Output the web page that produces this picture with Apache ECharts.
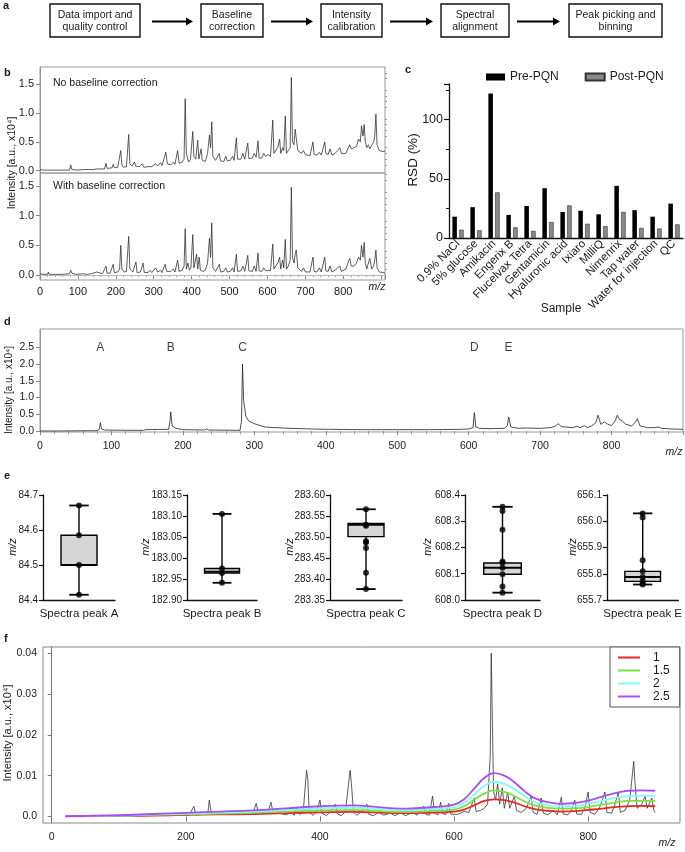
<!DOCTYPE html>
<html><head><meta charset="utf-8">
<script src="https://cdn.jsdelivr.net/npm/echarts@6/dist/echarts.min.js"></script>
<style>html,body{margin:0;padding:0;background:#fff}#c{width:685px;height:852px}</style>
</head><body><div id="c"></div>
<script>
// ---------------- DATA ----------------
const flowSteps = ['Data import and\nquality control','Baseline\ncorrection','Intensity\ncalibration','Spectral\nalignment','Peak picking and\nbinning'];

// Panel b: spectra [m/z, intensity x10^4]
const bUpperSpectrum = [[0,0.02],[10,0.01],[20,0.01],[22,0.03],[24,0.01],[40,0.01],[60,0.01],[78,0.01],[81,0.1],[84,0.02],[100,0.01],[115,0.02],[118,0.04],[121,0.02],[140,0.02],[150,0.03],[153,0.05],[156,0.03],[170,0.03],[174,0.13],[177,0.04],[190,0.05],[193,0.11],[196,0.05],[205,0.06],[210,0.08],[213,0.35],[216,0.1],[220,0.06],[228,0.07],[234,0.63],[237,0.12],[243,0.08],[249,0.15],[252,0.08],[262,0.07],[270,0.12],[274,0.06],[285,0.07],[290,0.1],[295,0.07],[305,0.12],[310,0.08],[318,0.14],[322,0.09],[332,0.32],[336,0.12],[345,0.1],[352,0.15],[356,0.11],[363,0.35],[367,0.13],[375,0.15],[380,0.2],[383,1.25],[386,0.3],[392,0.15],[397,0.2],[403,0.68],[406,0.25],[411,0.2],[416,0.53],[419,0.2],[425,0.38],[428,0.18],[436,0.16],[442,0.3],[447,0.62],[450,0.4],[453,0.85],[456,0.25],[463,0.18],[468,0.2],[473,0.3],[476,0.17],[485,0.16],[490,0.25],[494,0.17],[502,0.18],[508,0.25],[512,0.18],[518,0.57],[521,0.2],[530,0.2],[535,0.3],[540,0.2],[548,0.48],[551,0.21],[560,0.22],[565,0.3],[570,0.23],[575,0.52],[578,0.22],[585,0.22],[590,0.3],[595,0.25],[602,0.28],[608,0.25],[614,0.88],[617,0.3],[622,0.3],[627,0.4],[632,0.55],[635,0.3],[640,0.4],[643,0.35],[647,0.95],[650,0.3],[655,0.35],[660,0.4],[663,1.62],[666,0.5],[670,0.45],[673,0.72],[676,0.7],[680,0.35],[690,0.3],[695,0.35],[700,0.28],[705,0.3],[712,0.26],[720,0.5],[723,0.28],[730,0.27],[737,0.32],[742,0.27],[751,0.5],[754,0.3],[760,0.28],[765,0.38],[770,0.27],[778,0.3],[785,0.35],[791,0.4],[795,0.3],[800,0.32],[807,0.3],[812,0.38],[817,0.45],[821,0.38],[828,0.4],[835,0.42],[840,0.55],[845,0.5],[848,0.78],[852,0.6],[855,0.8],[858,0.5],[862,0.4],[866,0.45],[870,0.38],[875,0.4],[880,0.5],[883,0.6],[886,0.98],[889,0.45],[895,0.35],[900,0.38],[905,0.33],[910,0.34]];
const bLowerSpectrum = [[0,0.02],[10,0.01],[20,0.01],[22,0.05],[24,0.01],[40,0.01],[45,0.02],[60,0.01],[78,0.02],[81,0.08],[84,0.03],[95,0.01],[100,0.02],[115,0.02],[120,0.04],[123,0.01],[135,0.02],[150,0.05],[153,0.02],[165,0.02],[174,0.15],[177,0.03],[185,0.03],[193,0.18],[196,0.04],[205,0.05],[210,0.1],[213,0.5],[216,0.1],[222,0.05],[228,0.06],[234,0.65],[237,0.1],[245,0.05],[253,0.22],[256,0.04],[265,0.05],[272,0.2],[275,0.04],[285,0.04],[290,0.08],[295,0.04],[305,0.12],[310,0.05],[318,0.08],[322,0.04],[330,0.18],[334,0.06],[345,0.06],[352,0.1],[356,0.05],[363,0.25],[367,0.06],[375,0.08],[380,0.15],[383,0.78],[386,0.1],[390,0.2],[394,0.08],[398,0.12],[403,0.68],[406,0.12],[410,0.15],[413,0.35],[416,0.1],[420,0.3],[423,0.08],[430,0.06],[436,0.08],[442,0.2],[447,0.62],[450,0.3],[453,0.88],[456,0.12],[463,0.06],[468,0.08],[473,0.18],[476,0.05],[485,0.06],[490,0.12],[494,0.05],[502,0.06],[508,0.12],[512,0.05],[518,0.35],[521,0.06],[530,0.07],[535,0.15],[540,0.06],[548,0.33],[551,0.07],[560,0.06],[565,0.15],[570,0.06],[575,0.37],[578,0.07],[585,0.06],[590,0.12],[595,0.07],[602,0.08],[608,0.07],[614,0.52],[617,0.1],[622,0.08],[627,0.2],[632,0.3],[635,0.1],[640,0.25],[643,0.12],[647,0.6],[650,0.1],[655,0.15],[660,0.25],[663,1.48],[666,0.3],[670,0.2],[673,0.35],[676,0.42],[680,0.12],[690,0.06],[695,0.12],[700,0.05],[705,0.08],[712,0.05],[720,0.3],[723,0.06],[730,0.05],[737,0.12],[742,0.05],[751,0.3],[754,0.07],[760,0.06],[765,0.15],[770,0.05],[778,0.08],[785,0.12],[791,0.15],[795,0.06],[800,0.08],[807,0.1],[812,0.2],[817,0.28],[821,0.15],[828,0.15],[835,0.2],[840,0.3],[845,0.25],[848,0.5],[852,0.3],[855,0.55],[858,0.2],[862,0.1],[866,0.2],[870,0.28],[875,0.1],[880,0.15],[883,0.25],[886,0.42],[889,0.12],[895,0.05],[900,0.08],[905,0.04],[910,0.03]];
const bXLabels = [0,100,200,300,400,500,600,700,800];
const bYLabels = [0,0.5,1.0,1.5];
const bYMinor = [0.1,0.2,0.3,0.4,0.6,0.7,0.8,0.9,1.1,1.2,1.3,1.4,1.6,1.7];

// Panel c
const samples = ['0.9% NaCl','5% glucose','Amikacin','Engerix B','Flucelvax Tetra','Gentamicin','Hyaluronic acid','Ixiaro','MilliQ','Nimenrix','Tap water','Water for injection','QC'];
const preRSD  = [18, 26, 122, 19.5, 27, 42, 22, 23, 20, 44, 23.5, 18, 29];
const postRSD = [7, 6.5, 38.5, 9, 6, 13.5, 27.5, 12, 10, 22, 8.5, 8, 11.5];

// Panel d
const dSpectrum = [[0,0],[30,0],[80,0.01],[83,0.05],[84.5,0.25],[86,0.06],[90,0.03],[120,0.02],[145,0.02],[148,0.04],[150,0.02],[180,0.05],[182,0.3],[183,0.57],[185,0.15],[190,0.08],[200,0.04],[230,0.03],[233,0.06],[236,0.03],[280,0.02],[282,0.3],[283.5,2.0],[285,0.92],[288,0.45],[292,0.3],[300,0.22],[310,0.15],[312,0.18],[315,0.12],[330,0.1],[350,0.08],[380,0.06],[400,0.05],[402,0.07],[405,0.05],[445,0.04],[447,0.09],[450,0.04],[500,0.04],[550,0.04],[590,0.05],[600,0.06],[606,0.1],[608,0.55],[610,0.12],[615,0.08],[630,0.07],[650,0.08],[654,0.15],[656,0.42],[659,0.12],[670,0.08],[680,0.09],[700,0.08],[715,0.1],[722,0.15],[725,0.22],[730,0.13],[745,0.1],[752,0.14],[756,0.1],[762,0.16],[766,0.1],[772,0.15],[778,0.25],[781,0.47],[785,0.2],[790,0.27],[795,0.2],[800,0.16],[805,0.3],[808,0.47],[811,0.35],[815,0.3],[820,0.2],[828,0.15],[833,0.25],[836,0.37],[840,0.15],[850,0.1],[860,0.1],[865,0.12],[870,0.08],[885,0.06],[900,0.05]];
const peakNames = ['A','B','C','D','E'];
const peakMz = [84.5, 183, 283.5, 608.1, 655.8];
const dXLabels = [0,100,200,300,400,500,600,700,800];
const dYLabels = [0,0.5,1.0,1.5,2.0,2.5];

// Panel e: box stats [min, Q1, median, Q3, max] and individual points
const boxA = [84.415, 84.500, 84.500, 84.585, 84.670];
const boxB = [182.941, 182.964, 182.967, 182.975, 183.105];
const boxC = [283.376, 283.501, 283.529, 283.532, 283.566];
const boxD = [608.028, 608.098, 608.123, 608.141, 608.355];
const boxE = [655.759, 655.771, 655.788, 655.809, 656.030];
const ptsA = [84.670, 84.585, 84.500, 84.415];
const ptsB = [183.105, 182.975, 182.964, 182.941];
const ptsC = [283.566, 283.529, 283.527, 283.490, 283.487, 283.474, 283.415, 283.376];
const ptsD = [608.355, 608.339, 608.268, 608.147, 608.142, 608.123, 608.098, 608.051, 608.028];
const ptsE = [656.030, 656.014, 655.851, 655.810, 655.788, 655.772, 655.764, 655.759];
const eCats = ['Spectra peak A','Spectra peak B','Spectra peak C','Spectra peak D','Spectra peak E'];
const eMin = [84.4, 182.90, 283.35, 608.0, 655.7];
const eMax = [84.7, 183.15, 283.60, 608.4, 656.1];
const eStep = [0.1, 0.05, 0.05, 0.1, 0.1];
const eDec = [1, 2, 2, 1, 1];

// Panel f
const fSpectrum = [[20,0],[100,0.0001],[180,0.0003],[185,0.0008],[190,0.0003],[205,0.0003],[212,0.0025],[215,0.0004],[225,0.0005],[233,0.001],[235,0.004],[238,0.001],[250,0.0005],[270,0.0006],[290,0.0005],[300,0.0008],[305,0.0032],[308,0.001],[315,0.0006],[322,0.0008],[327,0.0035],[330,0.001],[335,0.002],[340,0.0008],[350,0.0004],[357,0.001],[362,0.0003],[365,0.0022],[370,0.0005],[375,0.001],[380,0.0113],[382,0.009],[384,0.001],[390,0.0003],[395,0.0012],[400,0.004],[403,0.0008],[410,0.0002],[416,0.0012],[423,0.003],[426,0.0006],[432,0.0002],[438,0.0012],[445,0.0113],[447,0.008],[450,0.001],[455,0.0003],[462,0.0012],[470,0.003],[473,0.0005],[480,0.0002],[488,0.001],[495,0.0003],[505,0.0008],[512,0.0002],[520,0.0009],[528,0.0002],[538,0.001],[545,0.0003],[555,0.0025],[558,0.0005],[563,0.0003],[568,0.005],[571,0.0008],[576,0.0004],[580,0.0035],[583,0.0007],[588,0.0005],[592,0.0032],[595,0.0006],[605,0.0005],[615,0.0012],[622,0.001],[630,0.0045],[633,0.0012],[640,0.0015],[645,0.002],[650,0.003],[654,0.015],[655.5,0.04],[657,0.025],[659,0.006],[662,0.004],[665,0.008],[668,0.003],[672,0.007],[675,0.002],[680,0.006],[683,0.002],[690,0.005],[693,0.0015],[700,0.001],[708,0.002],[715,0.005],[718,0.001],[724,0.0005],[730,0.0045],[733,0.0008],[740,0.0004],[748,0.0015],[754,0.0004],[760,0.0047],[763,0.0006],[770,0.0004],[775,0.0015],[780,0.004],[783,0.0006],[790,0.0005],[795,0.002],[800,0.006],[803,0.001],[810,0.0005],[818,0.0025],[825,0.006],[828,0.001],[835,0.0008],[840,0.003],[845,0.006],[848,0.001],[855,0.0015],[862,0.004],[868,0.0135],[870,0.008],[873,0.002],[880,0.003],[885,0.005],[888,0.002],[895,0.0045],[898,0.0015],[900,0.001]];
const fBaseMz = [20,100,150,200,250,300,350,400,450,480,520,560,600,615,630,645,660,675,690,705,720,740,760,780,800,820,840,860,880,900];
const fBase1   = [0,0.0001,0.0002,0.0004,0.0005,0.0006,0.0008,0.001,0.0011,0.001,0.0008,0.0009,0.0012,0.0017,0.0027,0.0038,0.0042,0.004,0.0034,0.0025,0.0018,0.0014,0.0012,0.0013,0.0016,0.0019,0.0023,0.0025,0.0026,0.0025];
const fBase15  = [0.0001,0.0002,0.0004,0.0005,0.0007,0.0009,0.0012,0.0015,0.0016,0.0014,0.0011,0.0013,0.0017,0.0025,0.0041,0.0056,0.0064,0.006,0.005,0.0037,0.0027,0.0021,0.0019,0.002,0.0023,0.0029,0.0034,0.0038,0.0038,0.0038];
const fBase2   = [0.0001,0.0002,0.0005,0.0007,0.001,0.0012,0.0016,0.002,0.0022,0.0019,0.0015,0.0018,0.0023,0.0034,0.0054,0.0075,0.0085,0.008,0.0067,0.005,0.0036,0.0028,0.0025,0.0026,0.0031,0.0038,0.0046,0.005,0.0051,0.005];
const fBase25  = [0.0001,0.0003,0.0006,0.0009,0.0012,0.0015,0.002,0.0025,0.0027,0.0024,0.0019,0.0022,0.0029,0.0042,0.0068,0.0094,0.0106,0.01,0.0084,0.0062,0.0045,0.0035,0.0031,0.0033,0.0039,0.0048,0.0057,0.0063,0.0064,0.0063];
const fBaseNames = ['1','1.5','2','2.5'];
const fBaseColors = ['#e8262a','#7ee03c','#86f8f8','#a550f5'];
const fXLabels = [0,200,400,600,800];
const fYLabels = [0,0.01,0.02,0.03,0.04];

// ---------------- CHART ----------------
const FONT = "'Liberation Sans', Arial, sans-serif";
const NARROW = "'Liberation Sans Narrow', 'Liberation Sans', Arial, sans-serif";
const chart = echarts.init(document.getElementById('c'), null, {renderer:'canvas'});

function T(x, y, text, o) {
  o = o || {};
  return {type:'text', x:x, y:y, rotation:o.rot || 0, silent:true, z:100,
    style:{text:text, fill:o.color||'#1a1a1a', font:(o.italic?'italic ':'')+(o.bold?'bold ':'')+(o.size||11)+'px '+FONT,
      textAlign:o.align||'left', align:o.align||'left', textVerticalAlign:o.va||'middle', verticalAlign:o.va||'middle', lineHeight:o.lh||undefined}};
}

const graphics = [];
[['a',3,6],['b',4,73],['c',405,70],['d',4,322],['e',4,476],['f',4,639]].forEach(p => graphics.push(T(p[1],p[2],p[0],{bold:true,size:11})));
const boxX = [[50,140],[201,263],[321,382],[441,509],[569,662]];
flowSteps.forEach((s,i) => {
  const b = boxX[i];
  graphics.push({type:'rect', shape:{x:b[0], y:4, width:b[1]-b[0], height:33}, style:{fill:'#fff', stroke:'#111', lineWidth:1.4}, silent:true});
  graphics.push(T((b[0]+b[1])/2, 21, s, {align:'center', size:10.5, lh:12}));
});
const arrows = [[152,193],[271,313],[390,433],[517,560]];
arrows.forEach(a => {
  graphics.push({type:'line', shape:{x1:a[0], y1:21.5, x2:a[1]-6, y2:21.5}, style:{stroke:'#000', lineWidth:2}, silent:true});
  graphics.push({type:'polygon', shape:{points:[[a[1]-7,17.5],[a[1],21.5],[a[1]-7,25.5]]}, style:{fill:'#000'}, silent:true});
});
graphics.push(T(12,163,'Intensity [a.u., x10⁴]',{rot:Math.PI/2, align:'center', size:10.5}));
graphics.push(T(53,83,'No baseline correction',{size:10.5}));
graphics.push(T(53,186,'With baseline correction',{size:10.5}));
graphics.push(T(377,287,'m/z',{italic:true, align:'center', size:10.5}));
graphics.push(T(413,160,'RSD (%)',{rot:Math.PI/2, align:'center', size:13.5}));
graphics.push(T(561,309,'Sample',{align:'center', size:12}));
graphics.push(T(9,390,'Intensity [a.u., x10⁴]',{rot:Math.PI/2, align:'center', size:10}));
graphics.push(T(674,452,'m/z',{italic:true, align:'center', size:10.5}));
[13,146,290,428,573].forEach(x => graphics.push(T(x,547,'m/z',{rot:Math.PI/2, align:'center', size:11, italic:true})));
graphics.push(T(8,733,'Intensity [a.u., x10⁴]',{rot:Math.PI/2, align:'center', size:11}));
graphics.push(T(667,843,'m/z',{italic:true, align:'center', size:10.5}));

const grid = [
  {left:40, top:67, width:345, height:106, show:true, borderColor:'#999', borderWidth:1},
  {left:40, top:173, width:345, height:107, show:true, borderColor:'#999', borderWidth:1},
  {left:449, top:84, width:234, height:154},
  {left:40, top:329, width:643, height:103, show:true, borderColor:'#999', borderWidth:1},
  {left:43, top:495, width:72, height:105},
  {left:187, top:495, width:70, height:105},
  {left:330, top:495, width:72, height:105},
  {left:465, top:495, width:75, height:105},
  {left:607, top:495, width:73, height:105},
  {left:43, top:647, width:637, height:176, show:true, borderColor:'#888', borderWidth:1}
];

const lab = (size, fam) => ({color:'#1a1a1a', fontSize:size, fontFamily:fam||FONT});

const xAxis = [
  {type:'value', gridIndex:0, min:0, max:910, show:false},
  {type:'value', gridIndex:1, min:0, max:910, interval:100, axisLine:{show:false}, splitLine:{show:false},
   axisTick:{show:true, length:4, lineStyle:{color:'#888'}}, minorTick:{show:true, splitNumber:5, length:2, lineStyle:{color:'#999'}},
   axisLabel:Object.assign({customValues:bXLabels, margin:6}, lab(11))},
  {type:'category', gridIndex:2, data:samples, axisLine:{lineStyle:{color:'#111', width:1.3}},
   axisTick:{alignWithLabel:true, length:4, lineStyle:{color:'#111', width:1.2}},
   axisLabel:Object.assign({rotate:45, interval:0, margin:4}, lab(11.5))},
  {type:'value', gridIndex:3, min:0, max:900, interval:100, axisLine:{show:false}, splitLine:{show:false},
   axisTick:{show:true, length:4, lineStyle:{color:'#888'}}, minorTick:{show:true, splitNumber:5, length:3, lineStyle:{color:'#999'}},
   axisLabel:Object.assign({customValues:dXLabels, margin:9}, lab(10.5))}
];
for (let i=0;i<5;i++) {
  xAxis.push({type:'category', gridIndex:4+i, data:[eCats[i]], axisLine:{lineStyle:{color:'#111', width:1.3}},
    axisTick:{alignWithLabel:true, length:4, lineStyle:{color:'#111', width:1.3}},
    axisLabel:Object.assign({margin:8}, lab(11.5))});
}
xAxis.push({type:'value', gridIndex:9, min:-13, max:937, axisLine:{show:false}, splitLine:{show:false},
  axisTick:{show:true, customValues:fXLabels, length:5, lineStyle:{color:'#777'}},
  axisLabel:Object.assign({customValues:fXLabels, margin:9}, lab(10.5))});

const yAxis = [
  {type:'value', gridIndex:0, min:-0.04, max:1.8, axisLine:{show:true, lineStyle:{color:'#999'}}, splitLine:{show:false},
   axisTick:{show:true, customValues:bYLabels, length:4, lineStyle:{color:'#888'}},
   axisLabel:Object.assign({customValues:bYLabels, formatter:v=>v.toFixed(1), margin:6}, lab(11))},
  {type:'value', gridIndex:1, min:-0.085, max:1.72, axisLine:{show:true, lineStyle:{color:'#999'}}, splitLine:{show:false},
   axisTick:{show:true, customValues:bYLabels, length:4, lineStyle:{color:'#888'}},
   axisLabel:Object.assign({customValues:bYLabels, formatter:v=>v.toFixed(1), margin:6}, lab(11))},
  {type:'value', gridIndex:2, min:0, max:130, interval:50, axisLine:{show:true, lineStyle:{color:'#111', width:1.3}}, splitLine:{show:false},
   axisTick:{show:true, length:5, lineStyle:{color:'#111', width:1.2}}, minorTick:{show:true, splitNumber:2, length:3, lineStyle:{color:'#111'}},
   axisLabel:Object.assign({showMaxLabel:false, margin:6}, lab(12.5))},
  {type:'value', gridIndex:3, min:-0.03, max:3.05, axisLine:{show:true, lineStyle:{color:'#999'}}, splitLine:{show:false},
   axisTick:{show:true, customValues:dYLabels, length:4, lineStyle:{color:'#888'}},
   axisLabel:Object.assign({customValues:dYLabels, formatter:v=>v.toFixed(1), margin:6}, lab(10.5))}
];
for (let i=0;i<5;i++) {
  yAxis.push({type:'value', gridIndex:4+i, min:eMin[i], max:eMax[i], interval:eStep[i],
    axisLine:{show:true, lineStyle:{color:'#111', width:1.3}}, splitLine:{show:false},
    axisTick:{show:true, length:4, lineStyle:{color:'#111', width:1.2}},
    axisLabel:Object.assign({formatter:v=>v.toFixed(eDec[i]), margin:5}, lab(10, NARROW))});
}
yAxis.push({type:'value', gridIndex:9, min:-0.0016, max:0.0415, axisLine:{show:true, lineStyle:{color:'#777'}}, splitLine:{show:false},
  axisTick:{show:true, customValues:fYLabels, length:4, lineStyle:{color:'#777'}},
  axisLabel:Object.assign({customValues:fYLabels, formatter:v=>v===0?'0.0':v.toFixed(2), margin:6}, lab(10.5))});
yAxis.push({type:'value', gridIndex:0, min:-0.04, max:1.8, axisLine:{show:false}, splitLine:{show:false}, axisLabel:{show:false},
  axisTick:{show:true, customValues:bYMinor, length:2, lineStyle:{color:'#999'}}});
yAxis.push({type:'value', gridIndex:1, min:-0.085, max:1.72, axisLine:{show:false}, splitLine:{show:false}, axisLabel:{show:false},
  axisTick:{show:true, customValues:bYMinor, length:2, lineStyle:{color:'#999'}}});

const specLine = (xi, data, color, w) => ({type:'line', xAxisIndex:xi, yAxisIndex:xi, data:data, showSymbol:false, symbol:'none',
  lineStyle:{color:color||'#333', width:w||0.8}, silent:true, z:3});

const series = [
  specLine(0, bUpperSpectrum),
  Object.assign(specLine(1, bLowerSpectrum), {markLine:{silent:true, symbol:'none', label:{show:false}, lineStyle:{color:'#bbb', type:'solid', width:1}, data:[{yAxis:0}]}}),
  {type:'bar', name:'Pre-PQN', xAxisIndex:2, yAxisIndex:2, data:preRSD, barWidth:4.5, barGap:'50%', itemStyle:{color:'#000'}},
  {type:'bar', name:'Post-PQN', xAxisIndex:2, yAxisIndex:2, data:postRSD, barWidth:4.5, barGap:'50%', itemStyle:{color:'#8a8a8a', borderColor:'#333', borderWidth:0.6}},
  specLine(3, dSpectrum, '#222', 0.8),
  {type:'scatter', xAxisIndex:3, yAxisIndex:3, symbolSize:0, silent:true,
   data:peakMz.map((m,i)=>({name:peakNames[i], value:[m, 2.5]})),
   label:{show:true, position:'inside', formatter:p=>p.name, color:'#111', fontSize:12, fontFamily:FONT}}
];

const boxes = [boxA, boxB, boxC, boxD, boxE];
const pts = [ptsA, ptsB, ptsC, ptsD, ptsE];
function renderBox(params, api) {
  const c = api.value(0);
  const pMin = api.coord([c, api.value(1)]), pQ1 = api.coord([c, api.value(2)]), pMed = api.coord([c, api.value(3)]),
        pQ3 = api.coord([c, api.value(4)]), pMax = api.coord([c, api.value(5)]);
  const band = api.size([1, 0])[0];
  const bw = band * 0.5, cw = band * 0.27, x = pMed[0];
  const k = {stroke:'#000', lineWidth:1.4};
  return {type:'group', children:[
    {type:'line', shape:{x1:x, y1:pMax[1], x2:x, y2:pMin[1]}, style:k},
    {type:'line', shape:{x1:x-cw/2, y1:pMax[1], x2:x+cw/2, y2:pMax[1]}, style:{stroke:'#000', lineWidth:1.8}},
    {type:'line', shape:{x1:x-cw/2, y1:pMin[1], x2:x+cw/2, y2:pMin[1]}, style:{stroke:'#000', lineWidth:1.8}},
    {type:'rect', shape:{x:x-bw/2, y:pQ3[1], width:bw, height:Math.max(pQ1[1]-pQ3[1], 0.5)}, style:{fill:'#d6d6d6', stroke:'#000', lineWidth:1.4}},
    {type:'line', shape:{x1:x-bw/2, y1:pMed[1], x2:x+bw/2, y2:pMed[1]}, style:{stroke:'#000', lineWidth:2}}
  ]};
}
for (let i=0;i<5;i++) {
  series.push({type:'custom', xAxisIndex:4+i, yAxisIndex:4+i, renderItem:renderBox, data:[[0].concat(boxes[i])], silent:true, z:2});
  series.push({type:'scatter', xAxisIndex:4+i, yAxisIndex:4+i, data:pts[i].map(v=>[0, v]), symbolSize:6, itemStyle:{color:'#000'}, silent:true, z:5});
}
series.push(specLine(9, fSpectrum, '#333', 0.8));
[fBase1, fBase15, fBase2, fBase25].forEach((arr, i) => {
  series.push({type:'line', name:fBaseNames[i], xAxisIndex:9, yAxisIndex:9, data:fBaseMz.map((m,j)=>[m, arr[j]]), smooth:0.4,
    showSymbol:false, symbol:'none', lineStyle:{color:fBaseColors[i], width:1.8}, itemStyle:{color:fBaseColors[i]}, silent:true, z:4});
});

const option = {
  animation:false,
  backgroundColor:'#fff',
  textStyle:{fontFamily:FONT},
  grid:grid, xAxis:xAxis, yAxis:yAxis, series:series,
  legend:[
    {data:['Pre-PQN','Post-PQN'], left:481, top:66, itemWidth:19, itemHeight:7, itemGap:26, icon:'rect',
     textStyle:{fontSize:12, color:'#1a1a1a', fontFamily:FONT}, selectedMode:false},
    {data:fBaseNames, orient:'vertical', left:610, top:647, itemWidth:22, itemHeight:2, itemGap:0, icon:'rect',
     padding:[4,10,4,8], backgroundColor:'#fff', borderColor:'#555', borderWidth:1, selectedMode:false,
     textStyle:{fontSize:12, lineHeight:13, color:'#1a1a1a', fontFamily:FONT, padding:[0,0,0,8]}}
  ],
  graphic:graphics
};
chart.setOption(option);
</script></body></html>
